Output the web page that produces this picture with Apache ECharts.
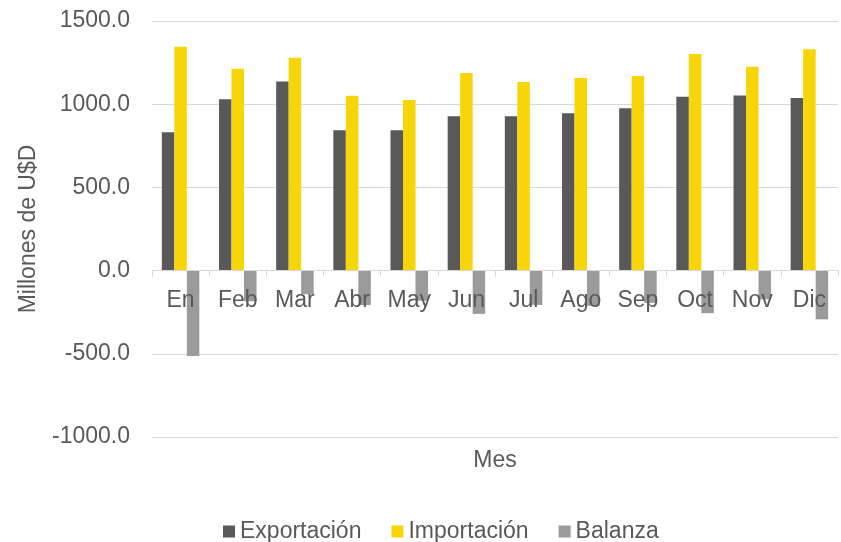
<!DOCTYPE html>
<html>
<head>
<meta charset="utf-8">
<script src="https://cdn.jsdelivr.net/npm/echarts@6/dist/echarts.min.js"></script>
<style>
  html, body { margin: 0; padding: 0; background: #fff; }
  #chart { width: 841px; height: 542px; }
</style>
</head>
<body>
<div id="chart"></div>
<script>
const months = ['En', 'Feb', 'Mar', 'Abr', 'May', 'Jun', 'Jul', 'Ago', 'Sep', 'Oct', 'Nov', 'Dic']
const exportacion = [832, 1029, 1137, 844, 844, 927, 927, 945, 975, 1045, 1053, 1037]
const importacion = [1345, 1213, 1279, 1051, 1025, 1187, 1133, 1157, 1169, 1301, 1225, 1330]
const balanza = [-513, -184, -142, -207, -181, -260, -206, -212, -194, -256, -172, -293]

const font = 'Liberation Sans, Arial, sans-serif'
const textColor = '#595959'

const chart = echarts.init(document.getElementById('chart'))

const bar = (name, data, color) => ({
  name,
  type: 'bar',
  data,
  barWidth: 12.5,
  barGap: '0%',
  itemStyle: { color },
})

chart.setOption({
  animation: false,
  grid: { left: 152, right: 3, top: 21, bottom: 105, outerBoundsMode: 'none', containLabel: false },
  legend: {
    top: 515,
    left: 218,
    itemWidth: 12,
    itemHeight: 12,
    itemGap: 30,
    icon: 'rect',
    textStyle: { color: textColor, fontSize: 23, fontFamily: font },
    data: ['Exportación', 'Importación', 'Balanza'],
  },
  xAxis: {
    type: 'category',
    data: months,
    z: 10,
    name: 'Mes',
    nameLocation: 'middle',
    nameGap: 12,
    nameMoveOverlap: false,
    nameTextStyle: { color: textColor, fontSize: 23, fontFamily: font, verticalAlign: 'top' },
    axisLine: { onZero: true, lineStyle: { color: '#d9d9d9' } },
    axisTick: { show: true, length: 6, lineStyle: { color: '#d9d9d9' } },
    // labels sit just under the zero line, as in the original
    axisLabel: { color: textColor, fontSize: 23, fontFamily: font, margin: -148 },
  },
  yAxis: {
    type: 'value',
    min: -1000,
    max: 1500,
    interval: 500,
    name: 'Millones de U$D',
    nameLocation: 'middle',
    nameGap: 112,
    nameTextStyle: { color: textColor, fontSize: 23, fontFamily: font },
    axisLine: { show: false },
    axisTick: { show: false },
    splitLine: { lineStyle: { color: '#d9d9d9', width: 1 } },
    axisLabel: {
      color: textColor,
      fontSize: 23,
      fontFamily: font,
      margin: 22,
      formatter: v => v.toFixed(1),
    },
  },
  series: [
    bar('Exportación', exportacion, '#595959'),
    bar('Importación', importacion, '#F8D508'),
    bar('Balanza', balanza, '#9B9B9B'),
  ],
})
</script>
</body>
</html>
